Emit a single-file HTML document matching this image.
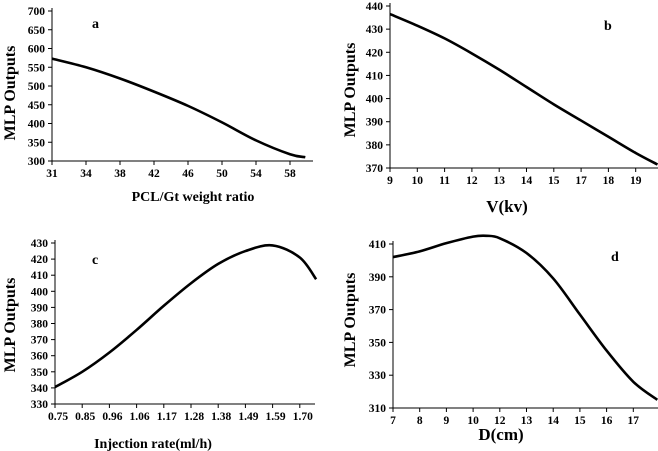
<!DOCTYPE html>
<html><head><meta charset="utf-8"><style>
html,body{margin:0;padding:0;background:#fff}
svg{display:block}
text{font-family:"Liberation Serif",serif;font-weight:bold;fill:#000}
</style></head><body>
<svg id="chart" width="658" height="451" viewBox="0 0 658 451" xmlns="http://www.w3.org/2000/svg"></svg>
<script>
// Panel a
const catsA = ["31","34","38","42","46","50","54","58"];
const yTicksA = [300,350,400,450,500,550,600,650,700];
const xA = [0,1,2,3,4,5,6,7,7.45];
const valsA = [573,550,520,485,447,403,355,318,310];
// Panel b
const catsB = ["9","10","11","12","13","14","15","17","18","19"];
const yTicksB = [370,380,390,400,410,420,430,440];
const xB = [0,1,2,3,4,5,6,7,8,9,9.8];
const valsB = [436.5,431.5,426,419.5,412.5,405,397.5,390.5,383.5,376.5,371.5];
// Panel c
const catsC = ["0.75","0.85","0.96","1.06","1.17","1.28","1.38","1.49","1.59","1.70"];
const yTicksC = [330,340,350,360,370,380,390,400,410,420,430];
const xC = [0,1,2,3,4,5,6,7,8,9,9.6];
const valsC = [340.5,350,362,376,391,405,417,425,428.5,421,407.5];
// Panel d
const catsD = ["7","8","9","10","12","13","14","15","16","17"];
const yTicksD = [310,330,350,370,390,410];
const xD = [0,1,2,3,3.5,4,5,6,7,8,9,9.9];
const valsD = [402,405.5,410.5,414.5,415,413.5,404.5,389,367,345,326,315];

const NS="http://www.w3.org/2000/svg";
const svg=document.getElementById('chart');
function mk(tag,attrs,parent){const e=document.createElementNS(NS,tag);for(const k in attrs)e.setAttribute(k,attrs[k]);(parent||svg).appendChild(e);return e;}

function panel(cfg){
  const g=mk('g',{});
  
  
  const yMin=cfg.yt[0], yMax=cfg.yt[cfg.yt.length-1];
  const ys=v=>cfg.yBot-(v-yMin)/(yMax-yMin)*(cfg.yBot-cfg.yTop);
  const xs=i=>cfg.x0+i*cfg.dx;
  const ax=mk('path',{d:`M${cfg.x0} ${cfg.yTop-3}V${cfg.yBot}H${cfg.xEnd}`,stroke:'#000','stroke-width':1,fill:'none'},g);
  
  
  cfg.yt.forEach(v=>{
    mk('line',{x1:cfg.x0-4,x2:cfg.x0,y1:ys(v),y2:ys(v),stroke:'#000'},g);
    const t=mk('text',{x:cfg.x0-7,y:ys(v)+4,'text-anchor':'end','font-size':11.5},g);
    t.textContent=v;
    
    
  });
  cfg.cats.forEach((c,i)=>{
    mk('line',{x1:xs(i),x2:xs(i),y1:cfg.yBot,y2:cfg.yBot+4,stroke:'#000'},g);
    const t=mk('text',{x:xs(i)+(cfg.lblOff||0),y:cfg.yBot+16,'text-anchor':'middle','font-size':11.5},g);
    t.textContent=c;
    
    
  });
  const pts=cfg.xv.map((x,i)=>[xs(x),ys(cfg.vals[i])]);
  let d=`M${pts[0][0]} ${pts[0][1]}`;
  for(let i=0;i<pts.length-1;i++){
    const p0=pts[i-1]||pts[i],p1=pts[i],p2=pts[i+1],p3=pts[i+2]||p2;
    const c1=[p1[0]+(p2[0]-p0[0])/6,p1[1]+(p2[1]-p0[1])/6];
    const c2=[p2[0]-(p3[0]-p1[0])/6,p2[1]-(p3[1]-p1[1])/6];
    d+=`C${c1[0]} ${c1[1]} ${c2[0]} ${c2[1]} ${p2[0]} ${p2[1]}`;
  }
  const line=mk('path',{d,stroke:'#000','stroke-width':2.6,fill:'none'},g);
  
  
  const lt=mk('text',{x:cfg.lx,y:cfg.ly,'font-size':14},g);
  lt.textContent=cfg.id;
  
  
  const xt=mk('text',{x:cfg.xtx,y:cfg.xty,'text-anchor':'middle','font-size':cfg.xtfs||14},g);
  xt.textContent=cfg.xtitle;
  
  
  const yt=mk('text',{x:0,y:0,'text-anchor':'middle','font-size':16,transform:`translate(${cfg.ytx},${cfg.yty}) rotate(-90)`},g);
  yt.textContent='MLP Outputs';
  
  
}
panel({id:'a',cats:catsA,yt:yTicksA,xv:xA,vals:valsA,x0:52,dx:34,xEnd:313,yTop:11,yBot:161,lx:92,ly:28,xtitle:'PCL/Gt weight ratio',xtx:193,xty:201,ytx:15,yty:93});
panel({id:'b',cats:catsB,yt:yTicksB,xv:xB,vals:valsB,x0:390,dx:27.3,xEnd:658,yTop:6,yBot:168,lx:604,ly:30,xtitle:'V(kv)',xtx:507,xty:212,xtfs:17,ytx:355,yty:90});
panel({id:'c',cats:catsC,yt:yTicksC,xv:xC,vals:valsC,x0:55,dx:27.2,xEnd:315,yTop:243,yBot:404,lx:92,ly:264,xtitle:'Injection rate(ml/h)',xtx:153,xty:448,ytx:15,yty:325,lblOff:3});
panel({id:'d',cats:catsD,yt:yTicksD,xv:xD,vals:valsD,x0:393,dx:26.7,xEnd:658,yTop:244,yBot:408,lx:611,ly:261,xtitle:'D(cm)',xtx:501,xty:440,xtfs:17,ytx:355,yty:320});
</script>
</body></html>
